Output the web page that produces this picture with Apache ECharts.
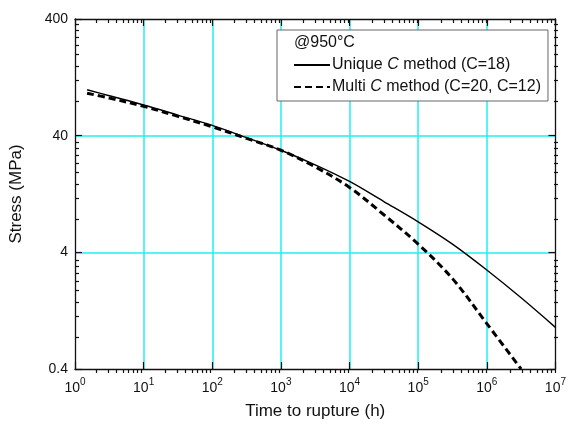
<!DOCTYPE html>
<html>
<head>
<meta charset="utf-8">
<title>Stress vs time to rupture</title>
<script src="https://cdn.jsdelivr.net/npm/echarts@6/dist/echarts.min.js"></script>
<style>
    html, body { margin: 0; padding: 0; background: #fff; }
    #container { width: 569px; height: 425px; }
</style>
</head>
<body>
<div id="container"></div>
<script>
// 数据 (half-decade steps)
var timeUnique = [1.5, 3.16, 10, 31.6, 100, 316, 1000, 3160, 1e4, 3.16e4, 1e5, 3.16e5, 1e6, 3.16e6, 1e7];
var stressUnique = [99, 88, 73.3, 60, 49, 38.5, 30, 22.5, 16.2, 10.9, 7.3, 4.7, 2.82, 1.63, 0.91];
var timeMulti = [1.5, 3.16, 10, 31.6, 100, 316, 1000, 3160, 1e4, 3.16e4, 1e5, 3.16e5, 1e6, 3.16e6];
var stressMulti = [92.5, 84, 71.4, 58.5, 47.7, 37.9, 30, 21.6, 14.4, 8.4, 4.7, 2.38, 0.98, 0.4];
var xMajorTicks = [1, 10, 100, 1000, 1e4, 1e5, 1e6, 1e7];
var yMajorTicks = [0.4, 4, 40, 400];
var seriesNames = ['Unique C method (C=18)', 'Multi C method (C=20, C=12)'];

var ChartModule = (function (echarts) {
    var chart;
    var FONT = 'Liberation Sans, Arial, sans-serif';
    var CYAN = '#1ef0f0';

    // minor ticks: 2..9 times each decade start
    function minorOf(majors) {
        var out = [];
        for (var i = 0; i < majors.length - 1; i++) {
            for (var k = 2; k <= 9; k++) {
                out.push(+(majors[i] * k).toPrecision(6));
            }
        }
        return out;
    }

    function pairs(xs, ys) {
        return xs.map(function (x, i) { return [x, ys[i]]; });
    }

    function xAxisOf(grid, pos, ticks, len, main) {
        var showGrid = main && pos === 'bottom';
        return {
            type: 'log', logBase: 10, gridIndex: grid, position: pos,
            min: 1, max: 1e7,
            axisLine: { show: main, onZero: false, lineStyle: { color: '#111', width: 1.3 } },
            axisTick: { show: true, inside: true, interval: 0, length: len, customValues: ticks,
                lineStyle: { color: '#111', width: 1.2 } },
            axisLabel: { show: showGrid, interval: 0, customValues: xMajorTicks, margin: 8,
                fontFamily: FONT, fontSize: 14, color: '#111',
                formatter: function (v) {
                    return '{b|10}{s|' + Math.round(Math.log10(v)) + '}';
                },
                rich: {
                    b: { fontFamily: FONT, fontSize: 14, color: '#111', lineHeight: 18, verticalAlign: 'bottom' },
                    s: { fontFamily: FONT, fontSize: 10, color: '#111', lineHeight: 18, verticalAlign: 'top', padding: [0, 0, 8, 0] }
                }
            },
            splitLine: { show: showGrid, interval: 0, showMinLine: false, showMaxLine: false,
                lineStyle: { color: CYAN, width: 1.5 } },
            minorSplitLine: { show: false },
            name: showGrid ? 'Time to rupture (h)' : '',
            nameLocation: 'middle', nameGap: 34,
            nameTextStyle: { fontFamily: FONT, fontSize: 17, color: '#111' }
        };
    }

    function yAxisOf(grid, pos, ticks, len, main) {
        var showGrid = main && pos === 'left';
        return {
            type: 'log', logBase: 10, gridIndex: grid, position: pos,
            min: 0.4, max: 400,
            axisLine: { show: main, onZero: false, lineStyle: { color: '#111', width: 1.3 } },
            axisTick: { show: true, inside: true, interval: 0, length: len, customValues: ticks,
                lineStyle: { color: '#111', width: 1.2 } },
            axisLabel: { show: showGrid, interval: 0, customValues: yMajorTicks, margin: 7,
                fontFamily: FONT, fontSize: 14, color: '#111',
                formatter: function (v) { return String(+v.toPrecision(3)); }
            },
            splitLine: { show: showGrid, interval: 0, showMinLine: false, showMaxLine: false,
                lineStyle: { color: CYAN, width: 1.5 } },
            minorSplitLine: { show: false },
            name: showGrid ? 'Stress (MPa)' : '',
            nameLocation: 'middle', nameGap: 50,
            nameTextStyle: { fontFamily: FONT, fontSize: 17, color: '#111' }
        };
    }

    var init = function () {
        chart = echarts.init(document.getElementById('container'), null, { renderer: 'canvas' });
        var xMinor = minorOf(xMajorTicks);
        var yMinor = minorOf(yMajorTicks);
        var grid = { left: 75, right: 11, top: 19, bottom: 52, containLabel: false };
        var option = {
            animation: false,
            backgroundColor: '#fff',
            title: {
                text: '@950°C', left: 294, top: 35, padding: 0,
                textStyle: { fontFamily: FONT, fontSize: 16, fontWeight: 'normal', color: '#111' }
            },
            legend: {
                orient: 'vertical', left: 277, top: 30,
                padding: [27, 7, 6, 16], itemGap: 6,
                itemWidth: 36, itemHeight: 16,
                borderColor: '#666', borderWidth: 1,
                backgroundColor: '#fff',
                data: seriesNames,
                itemStyle: { opacity: 0 },
                lineStyle: { width: 2 },
                textStyle: { fontFamily: FONT, fontSize: 16, color: '#111', padding: [0, 0, 0, -3],
                    rich: { i: { fontFamily: FONT, fontSize: 16, fontStyle: 'italic', color: '#111' } } },
                formatter: function (name) {
                    return name.replace(' C method', ' {i|C} method');
                }
            },
            grid: [grid, grid],
            xAxis: [
                xAxisOf(0, 'bottom', xMajorTicks, 7, true),
                xAxisOf(0, 'top', xMajorTicks, 7, true),
                xAxisOf(1, 'bottom', xMinor, 4, false),
                xAxisOf(1, 'top', xMinor, 4, false)
            ],
            yAxis: [
                yAxisOf(0, 'left', yMajorTicks, 7, true),
                yAxisOf(0, 'right', yMajorTicks, 7, true),
                yAxisOf(1, 'left', yMinor, 4, false),
                yAxisOf(1, 'right', yMinor, 4, false)
            ],
            series: [{
                name: seriesNames[0], type: 'line', xAxisIndex: 0, yAxisIndex: 0,
                smooth: 0.35, symbol: 'none', z: 3,
                lineStyle: { color: '#000', width: 1.4, type: 'solid' },
                itemStyle: { color: '#000' },
                data: pairs(timeUnique, stressUnique)
            }, {
                name: seriesNames[1], type: 'line', xAxisIndex: 0, yAxisIndex: 0,
                smooth: 0.35, symbol: 'none', z: 3,
                lineStyle: { color: '#000', width: 3, type: [7, 4] },
                itemStyle: { color: '#000' },
                data: pairs(timeMulti, stressMulti)
            }]
        };
        chart.setOption(option);
    };
    return { init: init };
})(echarts);
ChartModule.init();
</script>
</body>
</html>
